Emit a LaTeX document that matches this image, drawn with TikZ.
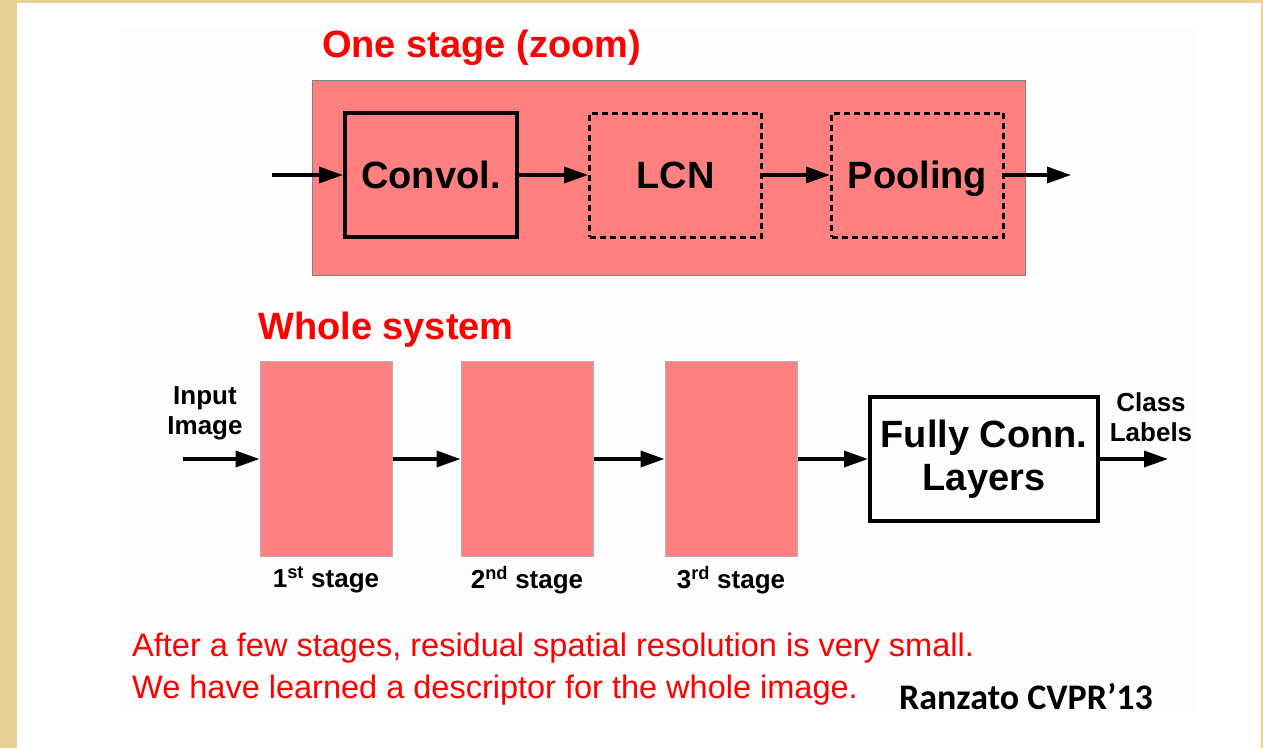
\documentclass[tikz,border=0pt]{standalone}
\usepackage{fontspec}
\setmainfont{Liberation Sans}
\newfontfamily\calfont{Carlito}
\usetikzlibrary{arrows.meta,positioning,backgrounds}
\definecolor{stagec}{HTML}{FF8080}
\definecolor{titlec}{HTML}{FF0000}
\definecolor{paperc}{HTML}{E8D196}
\tikzset{
  blk/.style={draw, line width=4pt, minimum width=172pt, minimum height=124pt, inner sep=0pt, align=center, font=\fontsize{38}{43}\selectfont\bfseries},
  oneline/.style={text height=27.5pt, text depth=0pt},
  dblk/.style={blk, oneline, line width=3pt, dash pattern=on 6pt off 4pt},
  stg/.style={draw=gray!60, line width=1pt, fill=stagec, minimum width=132pt, minimum height=195pt, inner sep=0pt},
  arr/.style={-{Triangle[length=24pt, width=16pt]}, line width=3.5pt},
  ttl/.style={text=titlec, font=\fontsize{38}{44}\selectfont\bfseries, anchor=west, inner sep=0pt},
  lbl/.style={font=\fontsize{26}{30}\selectfont\bfseries, align=center, inner sep=0pt},
}

\begin{document}
\begin{tikzpicture}[x=1pt, y=-1pt]
  % page frame
  \fill[paperc] (0,0) rectangle (1263,748);
  \fill[white] (17,3) rectangle (1261,748);
  \fill[black!0.8] (120,27) rectangle (1195,712);
  \useasboundingbox (0,0) rectangle (1263,748);

  % one stage, zoomed in
  \node[ttl] (zoomttl) at (322,48) {One stage (zoom)};
  \node[draw=gray, line width=1pt, fill=stagec, minimum width=713pt, minimum height=195pt] (zoom) at (668.5,177.5) {};
  \node[blk, oneline] (conv) at (431,175) {Convol.};
  \node[dblk, right=69pt of conv] (lcn) {LCN};
  \node[dblk, right=67pt of lcn] (pool) {Pooling};
  \coordinate (zin) at (272,175);
  \coordinate[right=66pt of pool] (zout);
  \draw[arr] (zin) -- (conv);
  \draw[arr] (conv) -- (lcn);
  \draw[arr] (lcn) -- (pool);
  \draw[arr] (pool) -- (zout);

  % whole system
  \node[ttl] (systtl) at (258,330) {Whole system};
  \node[stg] (s1) at (326,459) {};
  \node[stg] (s2) at (527,459) {};
  \node[stg] (s3) at (731,459) {};
  \node[blk, minimum width=228pt] (fc) at (984,459) {Fully Conn.\\Layers};
  \node[lbl, below=9pt of s1] (l1) {1\textsuperscript{st} stage};
  \node[lbl, below=9pt of s2] (l2) {2\textsuperscript{nd} stage};
  \node[lbl, below=9pt of s3] (l3) {3\textsuperscript{rd} stage};
  \node[lbl] (inp) at (205,413) {Input\\Image};
  \node[lbl] (cls) at (1151,417) {Class\\Labels};
  \coordinate (sin) at (183,459);
  \coordinate (sout) at (1168,459);
  \draw[arr] (sin) -- (s1);
  \draw[arr] (s1) -- (s2);
  \draw[arr] (s2) -- (s3);
  \draw[arr] (s3) -- (fc);
  \draw[arr] (fc) -- (sout);

  % remarks
  \node[anchor=west, text=titlec, font=\fontsize{32.5}{42}\selectfont, align=left, inner sep=0pt] (note) at (132,669)
    {After a few stages, residual spatial resolution is very small.\\We have learned a descriptor for the whole image.};
  \node[font=\calfont\fontsize{36}{40}\selectfont\bfseries] (cite) at (1026,697) {Ranzato CVPR’13};
\end{tikzpicture}
\end{document}
